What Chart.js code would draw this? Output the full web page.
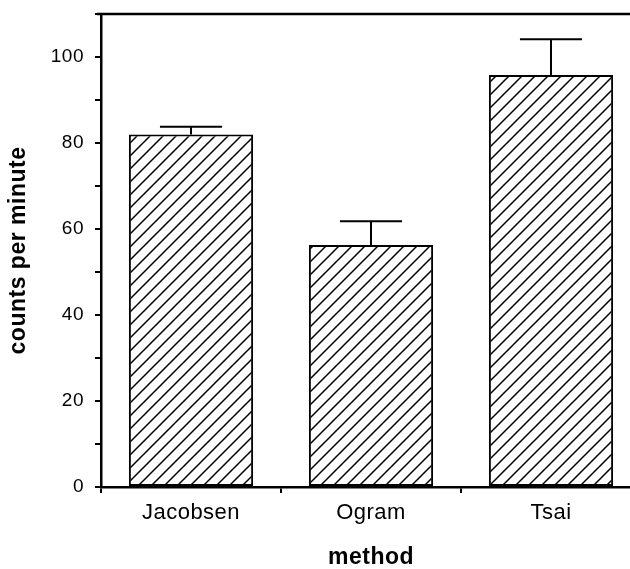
<!DOCTYPE html>
<html>
<head>
<meta charset="utf-8">
<script src="https://cdn.jsdelivr.net/npm/chart.js@4.4.1/dist/chart.umd.min.js"></script>
<style>
  html, body { margin: 0; padding: 0; background: #fff; overflow: hidden; }
  canvas { display: block; }
</style>
</head>
<body>
<canvas id="methodChart" width="641" height="569"></canvas>
<script>
const methods = ['Jacobsen', 'Ogram', 'Tsai'];
const meanCounts = [82, 56.3, 95.8];
const errorUp = [1.8, 5.5, 8.3];

const yMin = 0;
const yMax = 110;
const yStep = 10;

// diagonal hatch fill for the bars
function makeHatch() {
  const s = 13;
  const c = document.createElement('canvas');
  c.width = s;
  c.height = s;
  const g = c.getContext('2d');
  g.fillStyle = '#fff';
  g.fillRect(0, 0, s, s);
  g.strokeStyle = '#000';
  g.lineWidth = 1.5;
  g.beginPath();
  g.moveTo(-1, s + 1); g.lineTo(s + 1, -1);
  g.moveTo(-2, 2); g.lineTo(2, -2);
  g.moveTo(s - 2, s + 2); g.lineTo(s + 2, s - 2);
  g.stroke();
  return g.createPattern(c, 'repeat');
}

const spacing = {
  id: 'spacing',
  beforeUpdate(chart) { chart.ctx.letterSpacing = '0.5px'; },
  beforeDraw(chart) { chart.ctx.letterSpacing = '0.5px'; }
};

const errorBars = {
  id: 'errorBars',
  afterDatasetsDraw(chart) {
    const ctx = chart.ctx;
    const yScale = chart.scales.y;
    const meta = chart.getDatasetMeta(0);
    ctx.save();
    ctx.strokeStyle = '#000';
    ctx.lineWidth = 2;
    meta.data.forEach((bar, i) => {
      const top = yScale.getPixelForValue(meanCounts[i] + errorUp[i]);
      const half = bar.width / 4;
      ctx.beginPath();
      ctx.moveTo(bar.x, bar.y);
      ctx.lineTo(bar.x, top);
      ctx.moveTo(bar.x - half, top);
      ctx.lineTo(bar.x + half, top);
      ctx.stroke();
    });
    ctx.restore();
  }
};

const topLine = {
  id: 'topLine',
  afterDraw(chart) {
    const ctx = chart.ctx;
    const a = chart.chartArea;
    ctx.save();
    ctx.strokeStyle = '#000';
    ctx.lineWidth = 2.5;
    ctx.beginPath();
    ctx.moveTo(a.left - 4, a.top);
    ctx.lineTo(chart.width, a.top);
    ctx.stroke();
    ctx.restore();
  }
};

Chart.defaults.font.family = "'Liberation Sans', Arial, Helvetica, sans-serif";
Chart.defaults.color = '#000';

const ctx = document.getElementById('methodChart').getContext('2d');
new Chart(ctx, {
  type: 'bar',
  data: {
    labels: methods,
    datasets: [
      {
        label: 'counts per minute',
        data: meanCounts,
        backgroundColor: makeHatch(),
        borderColor: '#000',
        borderWidth: 2,
        borderSkipped: false,
        categoryPercentage: 1,
        barPercentage: 0.69,
      },
    ],
  },
  options: {
    responsive: false,
    animation: false,
    layout: { padding: { top: 14, left: 0, right: 0, bottom: 0 } },
    plugins: {
      legend: { display: false },
      tooltip: { enabled: false },
    },
    scales: {
      x: {
        offset: true,
        grid: {
          offset: true,
          drawOnChartArea: false,
          drawTicks: true,
          tickLength: 6,
          lineWidth: 2,
          color: '#000',
        },
        border: { display: true, color: '#000', width: 2.5 },
        ticks: { padding: 7, font: { size: 22 }, maxRotation: 0 },
        title: {
          display: true,
          text: 'method',
          font: { size: 23, weight: 'bold', lineHeight: 1 },
          padding: { top: 0, bottom: 0 },
        },
        afterFit(scale) {
          scale.height = 82;
          scale.paddingLeft = 0;
          scale.paddingRight = 0;
        },
      },
      y: {
        min: yMin,
        max: yMax,
        grid: {
          drawOnChartArea: false,
          drawTicks: true,
          tickLength: 6,
          lineWidth: 2,
          color: '#000',
        },
        border: { display: true, color: '#000', width: 2.5 },
        ticks: {
          stepSize: yStep,
          padding: 11,
          font: { size: 19 },
          callback: (v) => (v % 20 === 0 && v <= 100 ? v : ''),
        },
        title: {
          display: true,
          text: 'counts per minute',
          font: { size: 23, weight: 'bold', lineHeight: 1 },
          padding: { top: 7, bottom: 0 },
        },
        afterFit(scale) {
          scale.width = 101;
          scale.paddingTop = 0;
          scale.paddingBottom = 0;
        },
      },
    },
  },
  plugins: [spacing, errorBars, topLine],
});
</script>
</body>
</html>
